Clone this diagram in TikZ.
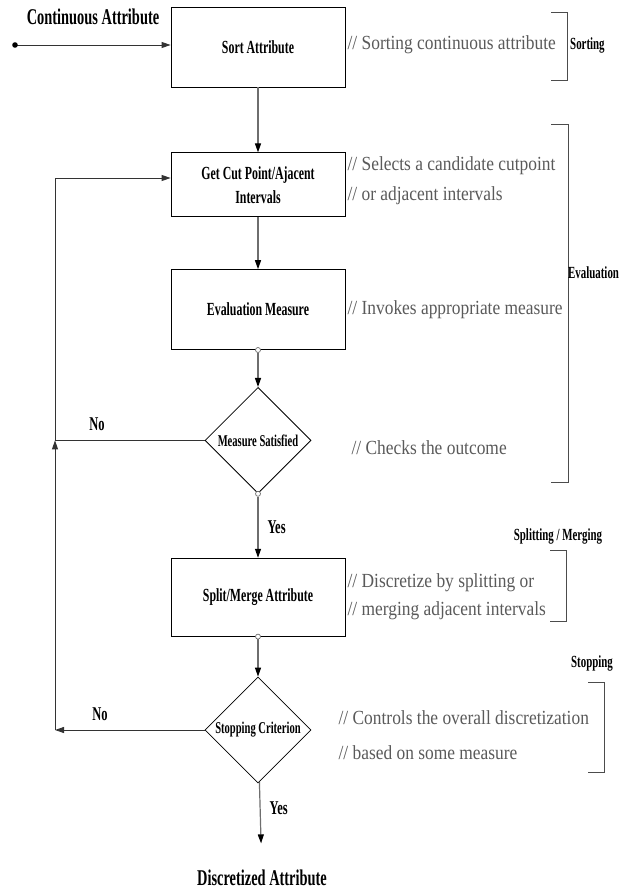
\documentclass[tikz,border=0pt]{standalone}
\usepackage{fontspec}
\setmainfont{Liberation Serif}
\newfontfamily\cmtfont[FakeStretch=0.87]{Liberation Serif}
\newfontfamily\lblfont[FakeStretch=0.64]{Liberation Serif}
\usetikzlibrary{positioning,arrows.meta,shapes.geometric}
\definecolor{flowgray}{RGB}{110,110,110}
\definecolor{notegray}{RGB}{90,90,90}
\newcommand{\boxfont}{\lblfont\bfseries\fontsize{18.5}{24}\selectfont}
\newcommand{\decfont}{\lblfont\bfseries\fontsize{16.5}{18}\selectfont}
\newcommand{\tagfont}{\lblfont\bfseries\fontsize{17}{19}\selectfont}
\newcommand{\termfont}{\lblfont\bfseries\fontsize{22.5}{26}\selectfont}
\newcommand{\ynfont}{\lblfont\bfseries\fontsize{19.5}{21}\selectfont}
\newcommand{\notefont}{\cmtfont\fontsize{20}{28}\selectfont}
\tikzset{
  procbox/.style={rectangle, draw, line width=0.8pt, minimum width=174pt,
                  inner sep=2pt, align=center, font=\boxfont},
  decision/.style={diamond, draw, line width=0.8pt, minimum width=106pt,
                   minimum height=106pt, inner sep=0pt, font=\decfont},
  note/.style={anchor=west, align=left, inner sep=2pt, text=notegray, font=\notefont},
  tag/.style={font=\tagfont, inner sep=1pt},
  term/.style={font=\termfont, inner sep=1pt},
  yn/.style={font=\ynfont, inner sep=1pt},
  ar/.style={-{Triangle[length=9pt,width=6pt,color=black]}, line width=1.2pt, draw=flowgray},
  loopline/.style={line width=0.9pt, draw=black!80},
  looparr/.style={loopline, -{Triangle[length=9pt,width=6pt]}},
  brk/.style={line width=0.9pt, draw=black!70},
  port/.style={circle, draw=flowgray, fill=white, line width=0.7pt, inner sep=0pt,
               minimum size=5pt},
}
\begin{document}
\begin{tikzpicture}[x=1pt, y=-1pt]
  \useasboundingbox (0,0) rectangle (628,890);
  % main flow
  \node[procbox, minimum height=80pt] (sort) at (258,47) {Sort Attribute};
  \node[procbox, minimum height=64pt, below=65pt of sort] (cut) {Get Cut Point/Ajacent\\Intervals};
  \node[procbox, minimum height=80pt, below=52pt of cut] (eval) {Evaluation Measure};
  \node[decision, below=37pt of eval] (meas) {Measure Satisfied};
  \node[procbox, minimum height=78pt, below=64pt of meas] (split) {Split/Merge Attribute};
  \node[decision, below=40pt of split] (stop) {Stopping Criterion};
  \node[term, below=85pt of stop, xshift=4pt] (out) {Discretized Attribute};
  \node[term] (inlbl) at (93,17) {Continuous Attribute};
  \coordinate (src) at (15,45);
  % comments
  \node[note, right=0pt of sort, yshift=2pt] (nsort) {// Sorting continuous attribute};
  \node[note, right=0pt of cut, yshift=4pt] (ncut) {// Selects a candidate cutpoint\\[2pt]// or adjacent intervals};
  \node[note, right=0pt of eval] (neval) {// Invokes appropriate measure};
  \node[note, right=38pt of meas, yshift=-7pt] (nmeas) {// Checks the outcome};
  \node[note, right=0pt of split] (nsplit) {// Discretize by splitting or\\// merging adjacent intervals};
  \node[note, right=25pt of stop, yshift=-5pt] (nstop) {// Controls the overall discretization\\[7pt]// based on some measure};
  % phase brackets
  \draw[brk] (551,12) -- (567,12) -- (567,80) -- (551,80);
  \node[tag, anchor=west] (tsort) at (569,45) {Sorting};
  \draw[brk] (551,124) -- (568,124) -- (568,482) -- (551,482);
  \node[tag, anchor=west] (teval) at (567,273) {Evaluation};
  \draw[brk] (550,550) -- (566,550) -- (566,621) -- (550,621);
  \node[tag] (tsplit) at (558,536) {Splitting / Merging};
  \draw[brk] (588,682) -- (604,682) -- (604,772) -- (588,772);
  \node[tag] (tstop) at (592,663) {Stopping};
  % connectors
  \draw[looparr] (src) -- (src -| sort.west);
  \fill (src) circle (2.8pt);
  \draw[ar] (sort) -- (cut);
  \draw[ar] (cut) -- (eval);
  \node[port] (p1) at (eval.south) {};
  \draw[ar] (p1) -- (meas);
  \node[port] (p2) at (meas.south) {};
  \draw[ar] (p2) -- (split) node[midway, right=8pt, yn] {Yes};
  \node[port] (p3) at (split.south) {};
  \draw[ar] (p3) -- (stop);
  \draw[ar, shorten >=25pt] (stop) -- (out) node[pos=0.3, right=8pt, yn] {Yes};
  % back loop
  \coordinate (lt) at (55,178);
  \coordinate (lm) at (lt |- meas.west);
  \coordinate (lb) at (lt |- stop.west);
  \draw[loopline] (meas.west) -- (lm) node[pos=0.72, above=8pt, yn] {No};
  \draw[looparr] (stop.west) -- (lb) node[pos=0.7, above=8pt, yn] {No};
  \draw[looparr] (lb) -- (lm);
  \draw[looparr] (lm) -- (lt) -- (lt -| cut.west);
\end{tikzpicture}
\end{document}
